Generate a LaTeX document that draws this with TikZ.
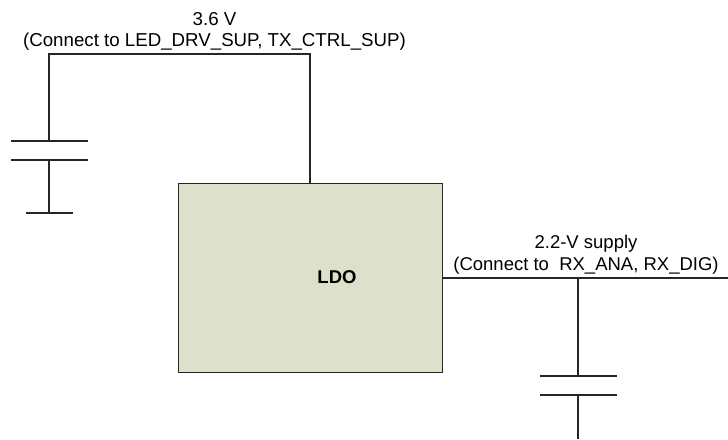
\documentclass[tikz,border=0pt]{standalone}
\usepackage{fontspec}
\setmainfont{Liberation Sans}
\tikzset{
  wire/.style={draw=black!85,line width=1.7pt},
  ldobox/.style={draw=black!70!gray,line width=0.9pt,fill=ldofill,inner sep=0pt,minimum width=264.5pt,minimum height=189pt},
  ldotext/.style={inner sep=0pt,font=\fontsize{18.5}{21}\selectfont\bfseries},
  lbl/.style={inner sep=0pt,align=center,font=\fontsize{18.5}{21.5}\selectfont},
  lbltop/.style={lbl,font=\fontsize{18.7}{21.5}\selectfont}
}
\definecolor{ldofill}{HTML}{DDE1CB}
\begin{document}
\begin{tikzpicture}[x=1pt,y=-1pt]
\useasboundingbox (0,0) rectangle (728,439);
\node[ldobox] (ldo) at (310.25,277.5) {};
\node[ldotext] (ldol) at (337,277) {LDO};
\coordinate (topl) at (49,54);
\coordinate (topr) at (ldo.north |- topl);
\coordinate (c1a) at (49,141);
\coordinate (c1al) at (11,141);
\coordinate (c1ar) at (88,141);
\coordinate (c1b) at (49,160);
\coordinate (c1bl) at (11,160);
\coordinate (c1br) at (88,160);
\coordinate (c1g) at (49,213);
\coordinate (c1gl) at (26,213);
\coordinate (c1gr) at (73,213);
\coordinate (rout) at (728,277.8);
\coordinate (rj) at (578.1,277.8);
\coordinate (c2a) at (578.1,376);
\coordinate (c2al) at (540,376);
\coordinate (c2ar) at (617,376);
\coordinate (c2b) at (578.1,395);
\coordinate (c2bl) at (540,395);
\coordinate (c2br) at (617,395);
\coordinate (c2g) at (578.1,439);
\draw[wire] (ldo.north) -- (topr) -- (topl) -- (c1a);
\draw[wire] (c1al) -- (c1ar);
\draw[wire] (c1bl) -- (c1br);
\draw[wire] (c1b) -- (c1g);
\draw[wire] (c1gl) -- (c1gr);
\draw[wire] (ldo.east |- rout) -- (rout);
\draw[wire] (rj) -- (c2a);
\draw[wire] (c2al) -- (c2ar);
\draw[wire] (c2bl) -- (c2br);
\draw[wire] (c2b) -- (c2g);
\node[lbltop] (t1) at (214.5,31.5) {3.6 V\\(Connect to LED\_DRV\_SUP, TX\_CTRL\_SUP)};
\node[lbl] (t2) at (586,254.5) {2.2-V supply\\(Connect to\ \ RX\_ANA, RX\_DIG)};
\end{tikzpicture}
\end{document}
